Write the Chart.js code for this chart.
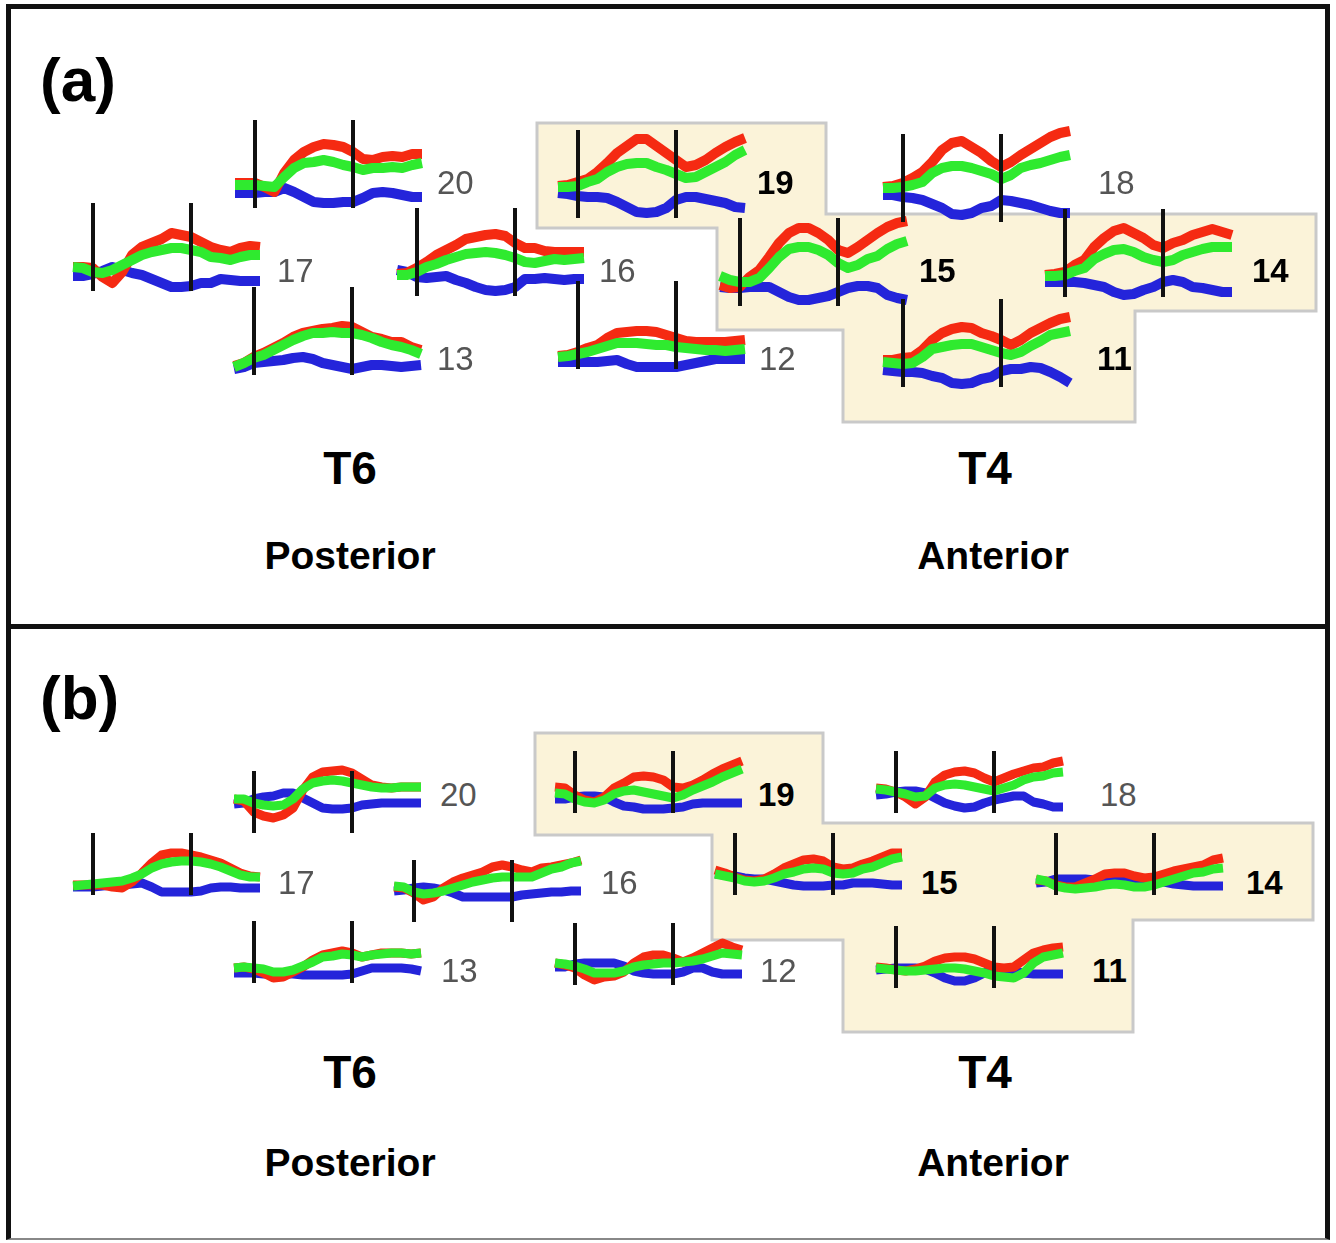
<!DOCTYPE html>
<html>
<head>
<meta charset="utf-8">
<script src="https://cdn.jsdelivr.net/npm/chart.js@4.4.1/dist/chart.umd.min.js"></script>
<style>
  html, body { margin:0; padding:0; background:#fff; }
  body { width:1336px; height:1243px; position:relative; overflow:hidden; font-family:"Liberation Sans", Arial, Helvetica, sans-serif; }
  .abs { position:absolute; }
  .num { position:absolute; font-size:33px; line-height:1; white-space:nowrap; }
  .num.plain { color:#555; font-weight:normal; }
  .num.hl { color:#000; font-weight:bold; }
  .big { position:absolute; font-weight:bold; color:#000; line-height:1; white-space:nowrap; transform-origin:50% 50%; }
  canvas { position:absolute; }
</style>
</head>
<body>
<div class="abs" style="left:6px; top:4px; width:1314px; height:615px; border:5px solid #111;"></div>
<div class="abs" style="left:6px; top:624px; width:1314px; height:614px; border-left:5px solid #111; border-right:5px solid #111; border-bottom:2px solid #888;"></div>
<svg class="abs" style="left:0; top:0;" width="1336" height="1243">
  <polygon id="hlA" fill="#FBF3D9" stroke="#C9C9C9" stroke-width="3"/>
  <polygon id="hlB" fill="#FBF3D9" stroke="#C9C9C9" stroke-width="3"/>
</svg>
<div id="root"></div>
<script>
// ---------------- DATA ----------------
const times = [-100,-50,0,50,100,150,200,250,300,350,400,450,500,550,600,650,700,750,800,850];
const markers = [0, 500];
const channels = [20, 17, 16, 13, 19, 12, 15, 18, 14, 11];
const highlighted = [19, 15, 14, 11];
const regions = ["T6", "T4"];
const directions = ["Posterior", "Anterior"];
const panelNames = ["(a)", "(b)"];

// Panel (a)
const a20Red   = [0.3,0.3,0.3,-0.1,-0.6,1.3,2.6,3.4,3.9,4.2,4.1,3.9,3.4,2.7,2.6,2.9,3.0,2.9,3.2,3.2];
const a20Green = [0.1,0.1,0.1,0.0,-0.1,0.9,1.8,2.3,2.4,2.6,2.4,2.1,1.9,1.6,1.8,1.8,1.9,1.8,2.1,2.3];
const a20Blue  = [-0.7,-0.7,-0.7,-0.6,-0.6,-0.2,-0.6,-1.1,-1.6,-1.7,-1.7,-1.6,-1.6,-1.2,-0.7,-0.6,-0.7,-0.9,-1.1,-1.1];
const a17Red   = [0.2,0.2,0.1,-0.8,-1.4,-0.3,1.4,2.2,2.6,3.0,3.6,3.4,3.2,2.7,2.2,1.9,1.7,2.1,2.3,2.2];
const a17Green = [0.2,0.1,-0.3,-0.4,-0.1,0.4,0.9,1.4,1.7,1.9,2.1,2.1,1.9,1.7,1.2,1.1,0.9,1.2,1.4,1.4];
const a17Blue  = [-0.7,-0.7,-0.5,-0.2,0.2,-0.1,-0.4,-0.6,-1.0,-1.4,-1.8,-1.8,-1.7,-1.4,-1.4,-1.0,-1.1,-1.2,-1.2,-1.2];
const a16Red   = [0.0,0.1,0.6,1.2,1.9,2.4,2.9,3.5,3.7,3.9,4.0,3.8,3.1,2.6,2.6,2.3,2.2,2.2,2.2,2.2];
const a16Green = [-0.1,-0.1,0.2,0.7,1.0,1.4,1.7,2.0,2.1,2.2,2.1,1.9,1.6,1.2,1.1,1.3,1.5,1.4,1.5,1.6];
const a16Blue  = [0.4,0.2,-0.3,-0.4,-0.3,-0.2,-0.6,-0.9,-1.3,-1.6,-1.7,-1.6,-1.3,-0.5,-0.5,-0.4,-0.5,-0.6,-0.5,-0.5];
const a13Red   = [-1.3,-1.0,-0.4,0.0,0.5,1.0,1.6,2.0,2.2,2.4,2.5,2.7,2.6,2.1,1.6,1.4,1.1,1.1,0.6,0.3];
const a13Green = [-1.4,-1.0,-0.5,-0.2,0.3,0.8,1.3,1.7,2.0,2.0,2.1,2.0,2.0,1.8,1.5,1.1,0.8,0.6,0.3,-0.1];
const a13Blue  = [-1.6,-1.4,-1.0,-0.9,-0.8,-0.7,-0.5,-0.4,-0.6,-1.0,-1.2,-1.4,-1.6,-1.4,-1.2,-1.2,-1.3,-1.4,-1.3,-1.2];
const a19Red   = [1.0,1.1,1.4,1.7,2.4,3.3,4.3,5.0,5.7,5.7,5.0,4.3,3.6,2.9,3.1,3.6,4.3,4.9,5.4,5.8];
const a19Green = [0.9,0.9,1.0,1.4,1.7,2.4,2.9,3.2,3.3,3.3,2.9,2.6,2.2,1.8,1.9,2.4,2.9,3.4,4.1,4.6];
const a19Blue  = [0.3,0.2,0.0,-0.1,-0.1,-0.2,-0.6,-1.1,-1.6,-1.7,-1.6,-1.2,-0.4,-0.1,-0.1,-0.3,-0.5,-0.7,-1.1,-1.2];
const a12Red   = [-0.9,-0.8,-0.5,-0.1,0.2,0.9,1.4,1.5,1.6,1.6,1.5,1.2,0.9,0.6,0.5,0.5,0.5,0.5,0.6,0.7];
const a12Green = [-1.0,-0.9,-0.7,-0.5,-0.2,0.1,0.4,0.4,0.4,0.3,0.2,0.2,0.0,-0.1,-0.2,-0.3,-0.3,-0.4,-0.3,-0.2];
const a12Blue  = [-1.5,-1.5,-1.5,-1.5,-1.5,-1.4,-1.3,-1.7,-2.0,-2.0,-2.0,-2.0,-2.0,-1.8,-1.6,-1.4,-1.2,-1.2,-1.2,-1.2];
const a15Red   = [-0.1,-0.4,-0.3,0.7,1.4,2.7,4.1,5.1,5.6,5.6,5.1,4.4,3.4,3.1,3.7,4.4,5.1,5.7,6.1,6.3];
const a15Green = [0.8,0.4,0.2,0.2,0.6,1.6,2.7,3.5,3.7,3.7,3.4,2.9,2.1,1.6,1.9,2.5,2.8,3.5,4.0,4.3];
const a15Blue  = [-0.3,-0.4,-0.4,-0.3,-0.3,-0.3,-0.8,-1.3,-1.6,-1.6,-1.4,-1.2,-0.8,-0.4,-0.2,-0.2,-0.4,-1.1,-1.4,-1.6];
const a18Red   = [1.3,1.4,1.7,2.2,2.8,3.8,5.0,5.7,5.9,5.3,4.7,3.9,3.3,3.8,4.5,5.1,5.7,6.3,6.7,6.9];
const a18Green = [1.2,1.2,1.3,1.5,1.8,2.7,3.2,3.4,3.4,3.2,2.9,2.6,2.1,2.5,3.2,3.5,3.7,4.0,4.3,4.5];
const a18Blue  = [0.5,0.5,0.3,0.2,0.0,-0.4,-0.8,-1.4,-1.5,-1.3,-0.8,-0.6,0.0,-0.1,-0.3,-0.5,-0.8,-1.1,-1.3,-1.3];
const a14Red   = [0.0,0.1,0.3,1.0,1.5,2.8,3.7,4.4,4.7,4.2,3.7,3.0,2.7,3.2,3.5,4.0,4.3,4.6,4.3,4.0];
const a14Green = [-0.1,-0.1,0.0,0.4,0.7,1.6,2.1,2.5,2.6,2.3,1.8,1.5,1.3,1.5,2.0,2.3,2.6,2.8,2.8,2.8];
const a14Blue  = [-0.7,-0.7,-0.7,-0.7,-0.8,-1.0,-1.2,-1.7,-2.0,-1.9,-1.5,-1.2,-0.7,-0.5,-0.7,-1.2,-1.3,-1.5,-1.7,-1.7];
const a11Red   = [0.5,0.5,0.7,0.8,1.5,2.5,3.2,3.6,3.8,3.7,3.2,2.9,2.5,2.0,2.5,3.2,3.7,4.2,4.6,4.8];
const a11Green = [0.3,0.2,0.1,0.2,0.8,1.6,1.8,2.0,2.1,2.1,1.8,1.5,1.2,1.0,1.3,1.9,2.4,3.0,3.2,3.4];
const a11Blue  = [-0.5,-0.6,-0.7,-0.7,-0.8,-1.1,-1.3,-1.8,-1.9,-1.8,-1.4,-1.2,-0.6,-0.4,-0.4,-0.2,-0.3,-0.7,-1.2,-1.8];

// Panel (b)
const b20Red   = [1.4,1.2,0.1,-0.3,-0.5,-0.2,0.5,2.3,3.6,4.1,4.2,4.3,4.0,3.4,2.8,2.6,2.5,2.6,2.6,2.6];
const b20Green = [1.4,1.4,1.0,0.8,0.7,0.8,1.4,2.4,3.0,3.2,3.3,3.2,3.0,2.8,2.6,2.5,2.5,2.6,2.6,2.6];
const b20Blue  = [0.9,1.0,1.4,1.6,1.7,2.0,2.0,1.5,1.0,0.5,0.4,0.4,0.5,0.8,0.9,1.0,1.0,1.0,1.0,1.0];
const b17Red   = [-1.0,-1.0,-1.0,-1.0,-1.2,-1.3,-0.7,0.2,1.2,2.0,2.2,2.2,2.0,1.8,1.5,1.2,0.7,0.2,-0.1,-0.2];
const b17Green = [-1.1,-1.0,-0.9,-0.8,-0.7,-0.6,-0.3,0.1,0.7,1.1,1.3,1.4,1.4,1.3,1.1,0.8,0.4,0.0,-0.2,-0.2];
const b17Blue  = [-1.2,-1.2,-1.2,-1.1,-1.0,-1.0,-0.9,-0.8,-1.2,-1.7,-1.7,-1.7,-1.7,-1.6,-1.3,-1.2,-1.2,-1.3,-1.3,-1.3];
const b16Red   = [1.5,1.4,0.9,0.2,0.5,1.4,2.0,2.4,2.7,3.0,3.5,3.7,3.5,3.2,3.0,3.4,3.5,3.7,3.9,4.2];
const b16Green = [1.6,1.5,1.0,0.8,0.9,1.1,1.4,1.7,2.0,2.2,2.4,2.5,2.5,2.5,2.5,2.9,3.3,3.5,3.9,4.1];
const b16Blue  = [1.1,1.2,1.4,1.5,1.4,1.2,0.9,0.5,0.5,0.5,0.5,0.5,0.5,0.7,0.8,0.9,1.0,1.0,1.1,1.1];
const b13Red   = [-0.5,-0.4,-0.6,-1.0,-1.5,-1.4,-0.9,-0.4,0.3,0.8,1.0,1.2,1.0,0.6,0.8,1.0,1.0,1.0,0.9,1.0];
const b13Green = [-0.5,-0.4,-0.5,-0.6,-0.9,-0.9,-0.7,-0.3,0.1,0.6,0.7,0.9,0.8,0.6,0.8,0.9,1.0,1.0,0.9,1.0];
const b13Blue  = [-1.0,-1.0,-1.0,-1.1,-1.1,-1.1,-1.1,-1.2,-1.2,-1.2,-1.2,-1.2,-1.1,-0.8,-0.5,-0.5,-0.5,-0.5,-0.6,-0.8];
const b19Red   = [0.6,0.5,-0.2,-0.7,-0.9,-0.4,0.5,1.0,1.6,1.7,1.6,1.3,0.6,0.5,0.8,1.3,1.9,2.4,2.8,3.2];
const b19Green = [0.0,-0.1,-0.6,-0.9,-1.0,-0.7,-0.1,0.2,0.3,0.1,-0.1,-0.3,-0.5,-0.2,0.3,0.7,1.1,1.6,2.0,2.4];
const b19Blue  = [-0.6,-0.6,-0.4,-0.3,-0.3,-0.4,-0.9,-1.3,-1.4,-1.6,-1.6,-1.6,-1.5,-1.4,-1.1,-1.0,-1.0,-1.0,-1.0,-1.0];
const b12Red   = [0.2,0.0,-0.3,-1.0,-1.5,-1.2,-1.1,-0.7,0.2,0.8,1.0,1.0,0.7,0.3,0.7,1.2,1.7,2.2,1.8,1.5];
const b12Green = [0.2,0.1,-0.1,-0.4,-0.8,-0.8,-0.8,-0.6,-0.2,0.0,0.1,0.2,0.2,0.3,0.4,0.6,0.9,1.2,1.1,1.0];
const b12Blue  = [-0.2,-0.2,0.1,0.2,0.2,0.2,0.2,-0.1,-0.6,-0.8,-0.9,-0.9,-0.9,-0.7,-0.3,-0.3,-0.7,-0.9,-0.9,-0.9];
const b15Red   = [0.5,0.2,-0.2,-0.5,-0.6,-0.4,0.1,0.7,1.1,1.5,1.6,1.4,0.8,0.6,0.7,1.1,1.4,1.8,2.2,2.2];
const b15Green = [0.1,-0.1,-0.3,-0.6,-0.7,-0.6,-0.3,0.1,0.3,0.6,0.7,0.6,0.2,0.1,0.2,0.6,0.8,1.2,1.6,1.8];
const b15Blue  = [0.1,0.0,-0.1,-0.3,-0.4,-0.4,-0.6,-0.8,-1.0,-1.1,-1.1,-1.1,-1.0,-1.0,-0.8,-0.8,-0.8,-0.9,-1.0,-1.0];
const b18Red   = [0.5,0.4,0.1,-0.4,-1.1,-0.4,1.1,1.8,2.1,2.2,2.0,1.5,1.1,1.5,1.9,2.2,2.5,2.6,3.0,3.2];
const b18Green = [0.4,0.3,0.1,-0.1,-0.4,-0.3,0.5,0.8,0.9,0.8,0.6,0.4,0.2,0.5,0.8,1.3,1.6,1.7,2.0,2.1];
const b18Blue  = [-0.2,-0.1,0.1,0.2,0.2,0.0,-0.5,-1.0,-1.3,-1.5,-1.4,-1.0,-0.7,-0.5,-0.3,-0.3,-0.9,-1.1,-1.4,-1.4];
const b14Red   = [-0.5,-0.6,-1.0,-1.2,-1.2,-0.8,-0.4,0.1,0.2,0.2,-0.1,-0.3,-0.2,0.1,0.4,0.6,0.8,1.0,1.5,1.7];
const b14Green = [-0.4,-0.6,-1.1,-1.3,-1.4,-1.3,-1.2,-1.0,-0.9,-1.0,-1.2,-1.2,-1.0,-0.7,-0.4,-0.1,0.2,0.3,0.6,0.7];
const b14Blue  = [-0.8,-0.7,-0.4,-0.4,-0.4,-0.4,-0.5,-0.6,-0.6,-0.6,-0.5,-0.4,-0.4,-0.7,-0.9,-1.0,-1.1,-1.1,-1.1,-1.1];
const b11Red   = [0.1,0.0,-0.2,-0.3,-0.1,0.2,0.7,1.0,1.1,1.1,0.9,0.5,0.1,0.0,0.1,0.8,1.5,1.8,2.0,2.1];
const b11Green = [0.0,-0.1,-0.2,-0.3,-0.3,-0.2,-0.1,0.0,0.0,-0.1,-0.3,-0.5,-0.8,-0.9,-1.0,-0.5,0.5,1.1,1.3,1.5];
const b11Blue  = [-0.2,-0.1,0.0,0.0,0.0,-0.1,-0.5,-1.0,-1.3,-1.3,-1.0,-0.5,0.0,-0.1,-0.3,-0.5,-0.6,-0.6,-0.6,-0.6];

// ---------------- LAYOUT (positions / styles, not data) ----------------
const T_MIN = -100, T_MAX = 850;
const PLOT_W = 187, PAD = 10;
const panelCfg = {
  a: { H: 88, yMin: -2.2, yMax: 6.6, lw: 10 },
  b: { H: 62, yMin: -2.0, yMax: 4.2, lw: 9 }
};
// [channel, x of first marker line, bottom of marker lines]
const placeA = [[20,255,208],[17,93,291],[16,417,296],[13,254,375],[19,578,218],[12,578,369],[15,740,306],[18,903,222],[14,1065,297],[11,903,387]];
const placeB = [[20,254,833],[17,93,895],[16,414,922],[13,254,983],[19,575,813],[12,575,985],[15,735,895],[18,896,813],[14,1056,895],[11,896,988]];
// channel label positions [channel, left, vertical centre]
const labelA = [[20,437,182],[17,277,270],[16,599,270],[13,437,358],[19,757,182],[12,759,358],[15,919,270],[18,1098,182],[14,1252,270],[11,1097,358]];
const labelB = [[20,440,794],[17,278,882],[16,601,882],[13,441,970],[19,758,794],[12,760,970],[15,921,882],[18,1100,794],[14,1246,882],[11,1092,970]];
const polyA = [[537,123],[826,123],[826,214],[1316,214],[1316,311],[1135,311],[1135,422],[843,422],[843,330],[717,330],[717,228],[537,228]];
const polyB = [[535,733],[823,733],[823,823],[1313,823],[1313,920],[1133,920],[1133,1032],[843,1032],[843,940],[712,940],[712,835],[535,835]];
const COLORS = { red:'#F52A12', green:'#2FEA2F', blue:'#2424DA', marker:'#111111' };

// ---------------- BUILD ----------------
const series = {
  a: {20:[a20Red,a20Green,a20Blue],17:[a17Red,a17Green,a17Blue],16:[a16Red,a16Green,a16Blue],13:[a13Red,a13Green,a13Blue],19:[a19Red,a19Green,a19Blue],
      12:[a12Red,a12Green,a12Blue],15:[a15Red,a15Green,a15Blue],18:[a18Red,a18Green,a18Blue],14:[a14Red,a14Green,a14Blue],11:[a11Red,a11Green,a11Blue]},
  b: {20:[b20Red,b20Green,b20Blue],17:[b17Red,b17Green,b17Blue],16:[b16Red,b16Green,b16Blue],13:[b13Red,b13Green,b13Blue],19:[b19Red,b19Green,b19Blue],
      12:[b12Red,b12Green,b12Blue],15:[b15Red,b15Green,b15Blue],18:[b18Red,b18Green,b18Blue],14:[b14Red,b14Green,b14Blue],11:[b11Red,b11Green,b11Blue]}
};

document.getElementById('hlA').setAttribute('points', polyA.map(p=>p.join(',')).join(' '));
document.getElementById('hlB').setAttribute('points', polyB.map(p=>p.join(',')).join(' '));

const markerPlugin = {
  id: 'markers',
  afterDatasetsDraw(chart) {
    const {ctx, chartArea, scales} = chart;
    ctx.save();
    ctx.fillStyle = COLORS.marker;
    markers.forEach(m => {
      const x = Math.round(scales.x.getPixelForValue(m));
      ctx.fillRect(x - 2, chartArea.top, 4, chartArea.bottom - chartArea.top);
    });
    ctx.restore();
  }
};

const root = document.getElementById('root');
function pts(arr){ return times.map((t,i)=>({x:t, y:arr[i]})); }

function makePlot(panel, ch, v1, bottom) {
  const cfg = panelCfg[panel];
  const left = v1 - (0 - T_MIN) / (T_MAX - T_MIN) * PLOT_W;
  const top = bottom - cfg.H;
  const cv = document.createElement('canvas');
  const w = PLOT_W + 2*PAD, h = cfg.H + 2*PAD;
  cv.width = w; cv.height = h;
  cv.style.width = w + 'px'; cv.style.height = h + 'px';
  cv.style.left = (left - PAD) + 'px';
  cv.style.top = (top - PAD) + 'px';
  root.appendChild(cv);
  const [r, g, b] = series[panel][ch];
  const ds = (label, arr, color, order) => ({
    label, data: pts(arr), borderColor: color, backgroundColor: color,
    borderWidth: cfg.lw, pointRadius: 0, tension: 0, fill: false, order, clip: false,
    borderCapStyle: 'butt', borderJoinStyle: 'round'
  });
  new Chart(cv, {
    type: 'line',
    data: { datasets: [ ds('green', g, COLORS.green, 1), ds('red', r, COLORS.red, 2), ds('blue', b, COLORS.blue, 3) ] },
    options: {
      responsive: false, animation: false, events: [],
      devicePixelRatio: 1,
      layout: { padding: PAD },
      plugins: { legend: { display:false }, tooltip: { enabled:false } },
      scales: {
        x: { type:'linear', min:T_MIN, max:T_MAX, display:false },
        y: { type:'linear', min:cfg.yMin, max:cfg.yMax, display:false }
      }
    },
    plugins: [markerPlugin]
  });
}

placeA.forEach(([ch, v1, bot]) => makePlot('a', ch, v1, bot));
placeB.forEach(([ch, v1, bot]) => makePlot('b', ch, v1, bot));

function addLabel(ch, x, cy) {
  const d = document.createElement('div');
  d.className = 'num ' + (highlighted.includes(ch) ? 'hl' : 'plain');
  d.textContent = String(ch);
  d.style.left = x + 'px';
  d.style.top = (cy - 0.4725*33) + 'px';
  root.appendChild(d);
}
labelA.forEach(l => addLabel(...l));
labelB.forEach(l => addLabel(...l));

function addBig(text, cx, cy, fs) {
  const d = document.createElement('div');
  d.className = 'big';
  d.textContent = text;
  d.style.fontSize = fs + 'px';
  d.style.top = (cy - 0.4725*fs) + 'px';
  d.style.left = cx + 'px';
  d.style.transform = 'translateX(-50%)';
  root.appendChild(d);
}
// panel letters
[[panelNames[0], 48.5], [panelNames[1], 666.5]].forEach(([t, top]) => {
  const d = document.createElement('div');
  d.className = 'big';
  d.textContent = t;
  d.style.fontSize = '62px';
  d.style.left = '40px';
  d.style.top = top + 'px';
  root.appendChild(d);
});
[[466.5, 554], [1071, 1161]].forEach(([yr, yd]) => {
  addBig(regions[0], 350, yr, 46);
  addBig(regions[1], 985, yr, 46);
  addBig(directions[0], 350, yd, 39);
  addBig(directions[1], 993, yd, 39);
});
</script>
</body>
</html>
